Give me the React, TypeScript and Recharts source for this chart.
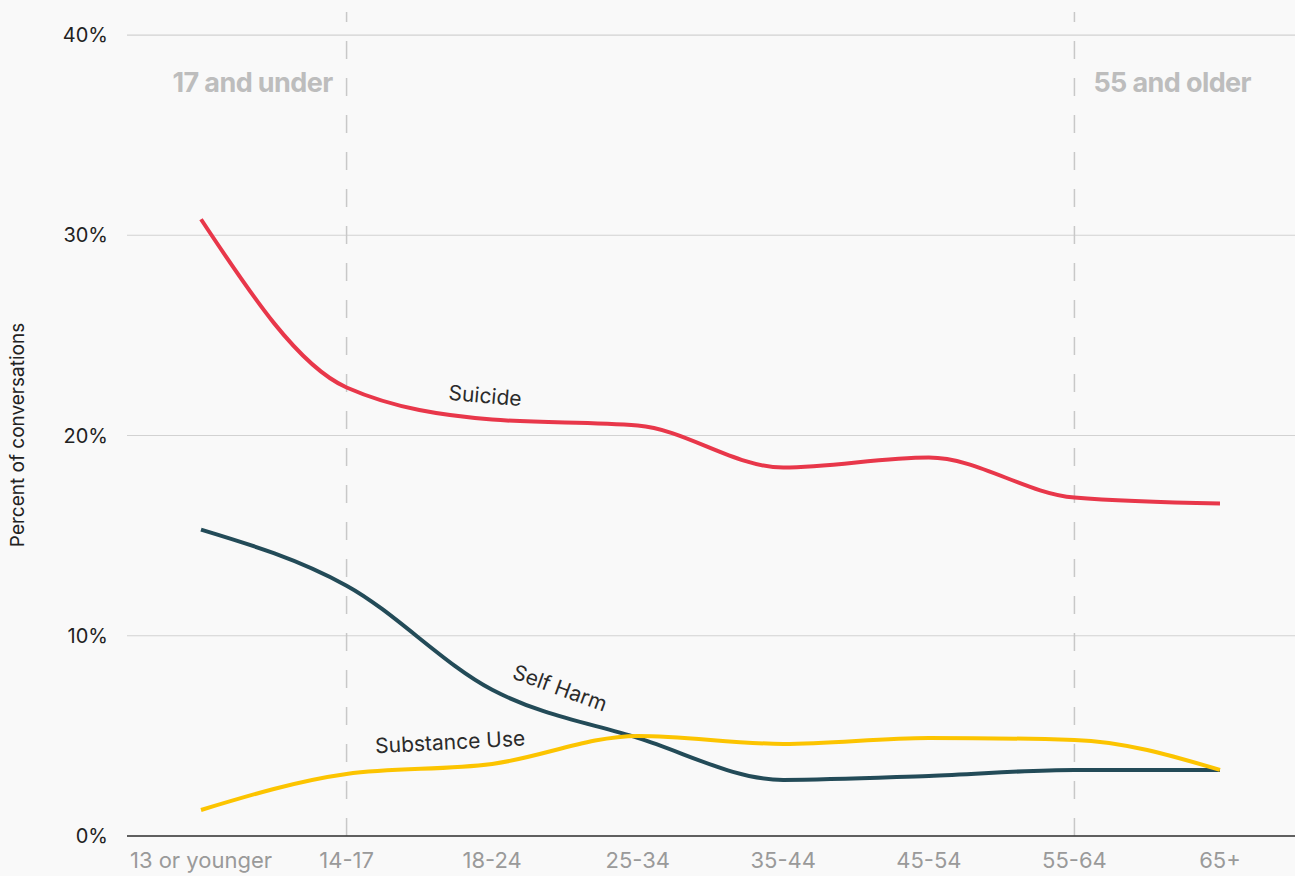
import { LineChart, Line, XAxis, YAxis, CartesianGrid, ReferenceLine } from 'recharts';

const ageGroups = ['13 or younger', '14-17', '18-24', '25-34', '35-44', '45-54', '55-64', '65+'];
const suicide = [30.8, 22.4, 20.8, 20.5, 18.4, 18.9, 16.9, 16.6];
const selfHarm = [15.3, 12.5, 7.3, 4.9, 2.8, 3.0, 3.3, 3.3];
const substanceUse = [1.3, 3.1, 3.6, 5.0, 4.6, 4.9, 4.8, 3.3];
const yTicks = [0, 10, 20, 30, 40];

const data = ageGroups.map((age, i) => ({
  age,
  suicide: suicide[i],
  selfHarm: selfHarm[i],
  substanceUse: substanceUse[i],
}));

const FONT = 'Inter, "Noto Sans", sans-serif';

// label drawn next to one point of a series
const seriesLabel = (text: string, atIndex: number, dx: number, dy: number, angle: number) =>
  (props: any) => {
    if (props.index !== atIndex) return null;
    const x = props.x + dx;
    const y = props.y + dy;
    return (
      <text
        x={x}
        y={y}
        textAnchor="middle"
        dominantBaseline="central"
        transform={`rotate(${angle} ${x} ${y})`}
        fill="#2b2b2b"
        fontSize={21}
        fontFamily={FONT}
      >
        {text}
      </text>
    );
  };

const groupLabel = (text: string, side: 'left' | 'right') => (props: any) => {
  const vb = props.viewBox;
  const x = side === 'left' ? vb.x - 14 : vb.x + 19;
  return (
    <text
      x={x}
      y={92}
      textAnchor={side === 'left' ? 'end' : 'start'}
      fill="#bdbdbd"
      fontSize={27}
      fontWeight={700}
      fontFamily={FONT}
      letterSpacing={-0.6}
    >
      {text}
    </text>
  );
};

const App = () => {
  return (
    <div style={{ width: 1295, height: 876, background: '#f9f9f9', fontFamily: FONT }}>
      <style>{'body{margin:0}'}</style>
      <LineChart width={1295} height={876} data={data} margin={{ top: 12, right: 0, bottom: 0, left: 0 }}>
        <CartesianGrid vertical={false} horizontalValues={yTicks} stroke="#d2d2d2" strokeWidth={1.2} />
        <XAxis
          dataKey="age"
          height={40}
          padding={{ left: 74, right: 75 }}
          tickLine={false}
          axisLine={{ stroke: '#333', strokeWidth: 1.5 }}
          tick={{ fill: '#9a9a9a', fontSize: 22, fontFamily: FONT }}
          tickMargin={10}
          interval={0}
        />
        <YAxis
          width={127}
          domain={[0, 41.15]}
          ticks={yTicks}
          tickFormatter={(v: number) => `${v}%`}
          tickLine={false}
          axisLine={false}
          tick={{ fill: '#222', fontSize: 20, fontFamily: FONT }}
          tickMargin={13}
          label={() => {
            const x = 17;
            const y = 435;
            return (
              <text
                x={x}
                y={y}
                transform={`rotate(-90 ${x} ${y})`}
                textAnchor="middle"
                dominantBaseline="central"
                fill="#222"
                fontSize={19}
                fontFamily={FONT}
              >
                Percent of conversations
              </text>
            );
          }}
        />
        <ReferenceLine
          x="14-17"
          stroke="#c8c8c8"
          strokeWidth={1.5}
          strokeDasharray="18 19"
          label={groupLabel('17 and under', 'left')}
        />
        <ReferenceLine
          x="55-64"
          stroke="#c8c8c8"
          strokeWidth={1.5}
          strokeDasharray="18 19"
          label={groupLabel('55 and older', 'right')}
        />
        <Line
          type="monotone"
          dataKey="suicide"
          stroke="#e8374a"
          strokeWidth={4}
          dot={false}
          isAnimationActive={false}
          label={seriesLabel('Suicide', 2, -7, -24, 5)}
        />
        <Line
          type="monotone"
          dataKey="selfHarm"
          stroke="#234b58"
          strokeWidth={4}
          dot={false}
          isAnimationActive={false}
          label={seriesLabel('Self Harm', 2, 68, -2, 20)}
        />
        <Line
          type="monotone"
          dataKey="substanceUse"
          stroke="#fcc400"
          strokeWidth={4}
          dot={false}
          isAnimationActive={false}
          label={seriesLabel('Substance Use', 2, -42, -22, -3)}
        />
      </LineChart>
    </div>
  );
};

export default App;
